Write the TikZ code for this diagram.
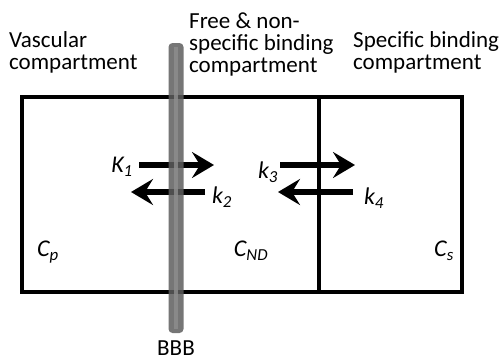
\documentclass[tikz,border=0pt]{standalone}
\usepackage{fontspec}
\setmainfont{Carlito}
\usetikzlibrary{arrows.meta}

\definecolor{bardark}{HTML}{5E5E5E}
\definecolor{barlight}{HTML}{8C8C8C}

\tikzset{
	wall/.style = {line width = 4.5pt},
	rate/.style = {-{Stealth[length=22pt, width=26pt, inset=8pt]}, line width = 5.5pt},
	lbl/.style = {inner sep = 0pt, font = \fontsize{23}{22}\selectfont},
	conc/.style = {lbl, font = \fontsize{24}{22}\selectfont\itshape}
}

\begin{document}
\begin{tikzpicture}[x = 1pt, y = -1pt]
\useasboundingbox (0,0) rectangle (504,362);

% compartments
\draw[wall] (22,97) rectangle (462,292);
\draw[wall] (319,97) -- (319,292);

% titles
\node[lbl, anchor = north west, align = left] (vasc) at (9,31) {Vascular\\compartment};
\node[lbl, anchor = north west, align = left] (free) at (189,13) {Free \& non-\\specific binding\\compartment};
\node[lbl, anchor = north west, align = left] (spec) at (353,31) {Specific binding\\compartment};

% rate constants
\coordinate (k1a) at (139,165);
\coordinate (k1b) at (214,165);
\coordinate (k2a) at (205,192);
\coordinate (k2b) at (131,192);
\coordinate (k3a) at (280,165);
\coordinate (k3b) at (355,165);
\coordinate (k4a) at (353,192);
\coordinate (k4b) at (278,192);
\draw[rate] (k1a) -- (k1b);
\draw[rate] (k2a) -- (k2b);
\draw[rate] (k3a) -- (k3b);
\draw[rate] (k4a) -- (k4b);
\node[conc] (K1) at (122,167) {K\textsubscript{1}};
\node[conc] (k2) at (222,197) {k\textsubscript{2}};
\node[conc] (k3) at (268,172) {k\textsubscript{3}};
\node[conc] (k4) at (374,198) {k\textsubscript{4}};

% concentrations
\node[conc] (Cp) at (48,252) {C\textsubscript{p}};
\node[conc] (Cnd) at (251,251) {C\textsubscript{ND}};
\node[conc] (Cs) at (444,251) {C\textsubscript{s}};

% blood brain barrier
\begin{scope}[opacity = 0.85]
	\fill[bardark, rounded corners = 4pt] (168.5,43) rectangle (183.5,333);
	\fill[barlight] (174,47) rectangle (178,329);
\end{scope}
\node[lbl, anchor = north] (bbb) at (176,341) {BBB};
\end{tikzpicture}
\end{document}
